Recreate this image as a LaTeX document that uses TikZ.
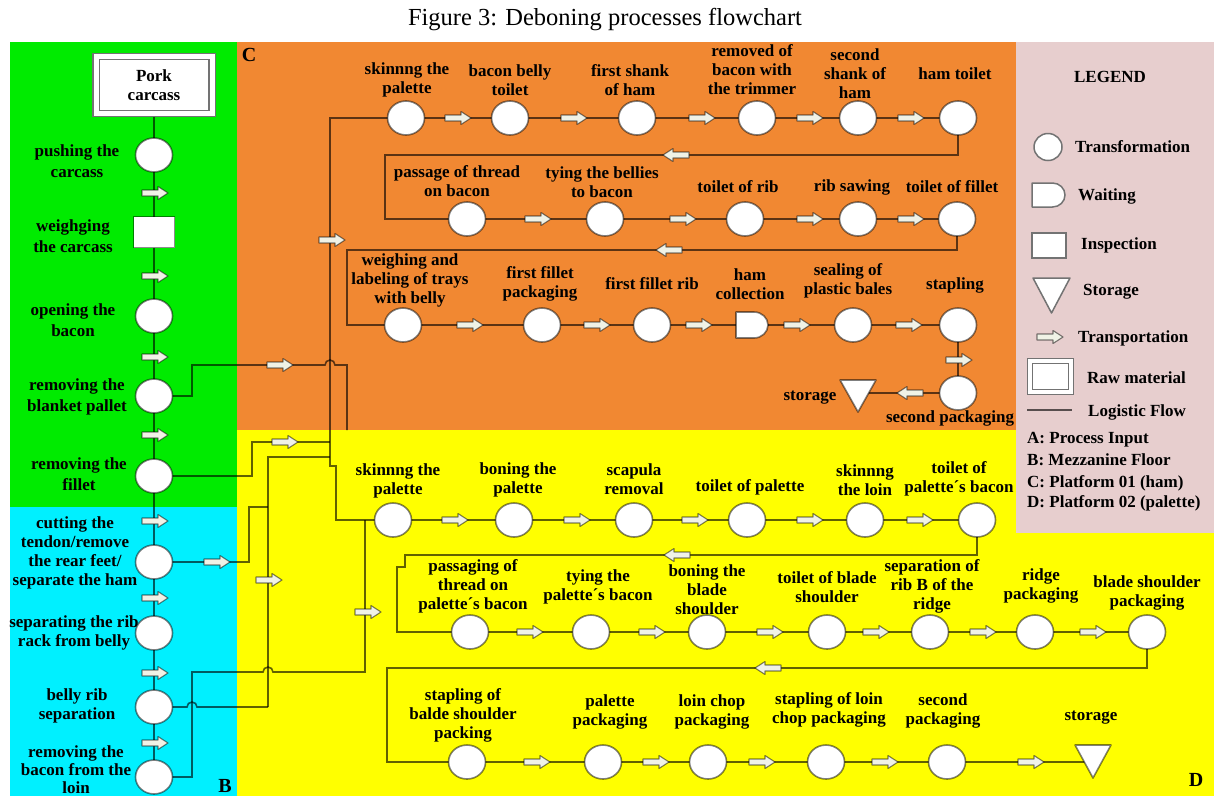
\documentclass[tikz,border=0pt]{standalone}
\usepackage{fontspec}
\setmainfont{Liberation Serif}
\usetikzlibrary{shapes.geometric}
\pgfdeclarelayer{regions}
\pgfdeclarelayer{lines}
\pgfsetlayers{regions,lines,main}
\definecolor{cgreen}{RGB}{0,235,0}
\definecolor{ccyan}{RGB}{0,240,255}
\definecolor{corange}{RGB}{241,136,50}
\definecolor{cyellow}{RGB}{255,255,0}
\definecolor{clegend}{RGB}{231,206,206}
\definecolor{arrfill}{RGB}{240,242,230}
\definecolor{cgray}{RGB}{115,115,115}
\tikzset{
  flow/.style={draw=black, draw opacity=0.62, line width=1.6pt},
  proc/.style={ellipse, draw=black, draw opacity=0.5, fill=white, line width=1.6pt, minimum width=37pt, minimum height=34pt, inner sep=0pt},
  insp/.style={rectangle, draw=black, draw opacity=0.45, fill=white, line width=1.5pt, minimum width=41pt, minimum height=31pt, inner sep=0pt},
  ghost/.style={rectangle, draw=none, minimum width=34pt, minimum height=30pt, inner sep=0pt},
  shp/.style={draw=black, draw opacity=0.5, fill=white, line width=1.6pt, line join=round},
  lshp/.style={draw=cgray, fill=white, line width=1.5pt, line join=round},
  lbl/.style={font=\bfseries\fontsize{17}{19}\selectfont, align=center, inner sep=0pt},
  lbll/.style={font=\bfseries\fontsize{17}{21}\selectfont, align=center, inner sep=0pt},
  lgd/.style={font=\bfseries\fontsize{17}{19}\selectfont, anchor=base west, inner sep=0pt},
  reg/.style={font=\bfseries\fontsize{20}{22}\selectfont, inner sep=0pt},
  tarr/.pic={\draw[fill=arrfill, draw=black, draw opacity=0.5, line width=1.1pt, line join=round] (-13,-3) -- (3,-3) -- (3,-6.5) -- (13,0) -- (3,6.5) -- (3,3) -- (-13,3) -- cycle;},
}
\begin{document}
\begin{tikzpicture}[x=1pt,y=-1pt]
\useasboundingbox (0,0) rectangle (1214,796);
\begin{pgfonlayer}{regions}
\fill[white] (0,0) rectangle (1214,796);
\fill[cgreen] (10,42) rectangle (237,507);
\fill[ccyan] (10,507) rectangle (237,796);
\fill[corange] (237,42) rectangle (1016,430);
\fill[cyellow] (237,430) rectangle (1214,796);
\fill[clegend] (1016,42) rectangle (1214,533);
\end{pgfonlayer}

\node[font=\fontsize{24.5}{26}\selectfont, inner sep=0pt] (title) at (605,20) {Figure 3: Deboning processes flowchart};

% region letters
\node[reg] (rc) at (249,55) {C};
\node[reg] (rb) at (225,786) {B};
\node[reg] (rd) at (1196,780) {D};

% ---------- left column ----------
\node[lbl, draw=cgray, double=white, double distance=5pt, fill=white, line width=1.2pt, minimum width=116pt, minimum height=57pt] (pork) at (154,85) {Pork\\carcass};
\node[proc] (p1) at (154,155) {};
\node[insp] (p2) at (154,232) {};
\node[proc] (p3) at (154,316) {};
\node[proc] (p4) at (154,396) {};
\node[proc] (p5) at (154,476) {};
\node[proc] (p6) at (154,562) {};
\node[proc] (p7) at (154,633) {};
\node[proc] (p8) at (154,707) {};
\node[proc] (p9) at (154,777) {};

\node[lbll] (lp1) at (77,161) {pushing the\\carcass};
\node[lbll] (lp2) at (73,236) {weighging\\the carcass};
\node[lbll] (lp3) at (73,320) {opening the\\bacon};
\node[lbll] (lp4) at (77,397) {removing the\\blanket pallet};
\node[lbll] (lp5) at (79,474) {removing the\\fillet};
\node[lbl] (lp6) at (75,553) {cutting the\\tendon/remove\\the rear feet/\\separate the ham};
\node[lbl] (lp7) at (74,633) {separating the rib\\rack from belly};
\node[lbl] (lp8) at (77,706) {belly rib\\separation};
\node[font=\bfseries\fontsize{17}{18}\selectfont, align=center, inner sep=0pt] (lp9) at (76,770) {removing the\\bacon from the\\loin};

% ---------- orange (C) ----------
\node[proc] (o1) at (406,118) {};
\node[proc] (o2) at (510,118) {};
\node[proc] (o3) at (637,118) {};
\node[proc] (o4) at (757,118) {};
\node[proc] (o5) at (858,118) {};
\node[proc] (o6) at (958,118) {};
\node[proc] (o7) at (467,219) {};
\node[proc] (o8) at (605,219) {};
\node[proc] (o9) at (745,219) {};
\node[proc] (o10) at (858,219) {};
\node[proc] (o11) at (957,219) {};
\node[proc] (o12) at (403,325) {};
\node[proc] (o13) at (542,325) {};
\node[proc] (o14) at (652,325) {};
\node[ghost] (o15) at (752,325) {};
\node[proc] (o16) at (853,325) {};
\node[proc] (o17) at (958,325) {};
\node[proc] (o18) at (958,393) {};
\node[ghost] (o19) at (858,393) {};
\draw[shp] ([shift={(-16,-13)}]o15.center) -- ([shift={(2,-13)}]o15.center) arc[start angle=270, end angle=450, x radius=14, y radius=13] -- ([shift={(-16,13)}]o15.center) -- cycle;
\draw[shp] ([shift={(-18,-13)}]o19.center) -- ([shift={(18,-13)}]o19.center) -- ([shift={(0,19)}]o19.center) -- cycle;

\node[lbl] (lo1) at (407,80) {skinnng the\\palette};
\node[lbl] (lo2) at (510,80) {bacon belly\\toilet};
\node[lbl] (lo3) at (630,80) {first shank\\of ham};
\node[lbl] (lo4) at (752,70) {removed of\\bacon with\\the trimmer};
\node[lbl] (lo5) at (855,74) {second\\shank of\\ham};
\node[lbl] (lo6) at (955,74) {ham toilet};
\node[lbl] (lo7) at (457,181) {passage of thread\\on bacon};
\node[lbl] (lo8) at (602,182) {tying the bellies\\to bacon};
\node[lbl] (lo9) at (738,187) {toilet of rib};
\node[lbl] (lo10) at (852,187) {rib sawing};
\node[lbl] (lo11) at (952,187) {toilet of fillet};
\node[lbl] (lo12) at (410,280) {weighing and\\labeling of trays\\with belly};
\node[lbl] (lo13) at (540,284) {first fillet\\packaging};
\node[lbl] (lo14) at (652,284) {first fillet rib};
\node[lbl] (lo15) at (750,284) {ham\\collection};
\node[lbl] (lo16) at (848,281) {sealing of\\plastic bales};
\node[lbl] (lo17) at (955,285) {stapling};
\node[lbl] (lo18) at (950,418) {second packaging};
\node[lbl] (lo19) at (810,398) {storage};

% ---------- yellow (D) ----------
\node[proc] (y1) at (393,520) {};
\node[proc] (y2) at (514,520) {};
\node[proc] (y3) at (634,520) {};
\node[proc] (y4) at (747,520) {};
\node[proc] (y5) at (865,520) {};
\node[proc] (y6) at (977,520) {};
\node[proc] (y7) at (470,632) {};
\node[proc] (y8) at (591,632) {};
\node[proc] (y9) at (707,632) {};
\node[proc] (y10) at (827,632) {};
\node[proc] (y11) at (930,632) {};
\node[proc] (y12) at (1035,632) {};
\node[proc] (y13) at (1147,632) {};
\node[proc] (y14) at (467,762) {};
\node[proc] (y15) at (603,762) {};
\node[proc] (y16) at (708,762) {};
\node[proc] (y17) at (826,762) {};
\node[proc] (y18) at (947,762) {};
\node[ghost] (y19) at (1093,762) {};
\draw[shp] ([shift={(-18,-17)}]y19.center) -- ([shift={(18,-17)}]y19.center) -- ([shift={(0,16)}]y19.center) -- cycle;

\node[lbl] (ly1) at (398,481) {skinnng the\\palette};
\node[lbl] (ly2) at (518,480) {boning the\\palette};
\node[lbl] (ly3) at (634,479) {scapula\\removal};
\node[lbl] (ly4) at (750,487) {toilet of palette};
\node[lbl] (ly5) at (865,480) {skinnng\\the loin};
\node[lbl] (ly6) at (959,479) {toilet of\\palette´s bacon};
\node[lbl] (ly7) at (473,586) {passaging of\\thread on\\palette´s bacon};
\node[lbl] (ly8) at (598,587) {tying the\\palette´s bacon};
\node[lbl] (ly9) at (707,590) {boning the\\blade\\shoulder};
\node[lbl] (ly10) at (827,587) {toilet of blade\\shoulder};
\node[lbl] (ly11) at (932,586) {separation of\\rib B of the\\ridge};
\node[lbl] (ly12) at (1041,586) {ridge\\packaging};
\node[lbl] (ly13) at (1147,593) {blade shoulder\\packaging};
\node[lbl] (ly14) at (463,715) {stapling of\\balde shoulder\\packing};
\node[lbl] (ly15) at (610,712) {palette\\packaging};
\node[lbl] (ly16) at (712,712) {loin chop\\packaging};
\node[lbl] (ly17) at (829,710) {stapling of loin\\chop packaging};
\node[lbl] (ly18) at (943,711) {second\\packaging};
\node[lbl] (ly19) at (1091,718) {storage};

% ---------- connectors ----------
\coordinate (b1) at (192,396); \coordinate (b2) at (192,365); \coordinate (bh) at (325,365);
\coordinate (b3) at (347,365); \coordinate (b4) at (347,430);
\coordinate (f1) at (252,476); \coordinate (f2) at (252,442); \coordinate (f3) at (330,442);
\coordinate (v1top) at (330,118); \coordinate (v1bot) at (330,466); \coordinate (v1j) at (336,466); \coordinate (yst) at (336,520);
\coordinate (c1) at (249,562); \coordinate (c2) at (249,507); \coordinate (c3) at (268,507);
\coordinate (v2top) at (268,457); \coordinate (v2r) at (330,457); \coordinate (v2bot) at (268,707);
\coordinate (eh) at (187,707);
\coordinate (l1) at (192,777); \coordinate (l2) at (192,672); \coordinate (lh) at (263,672); \coordinate (l3) at (365,672); \coordinate (l4) at (365,520);
\coordinate (r1a) at (958,155); \coordinate (r1b) at (385,155); \coordinate (r1c) at (385,219);
\coordinate (r2a) at (957,250); \coordinate (r2b) at (347,250); \coordinate (r2c) at (347,325);
\coordinate (s1a) at (977,555); \coordinate (s1b) at (405,555); \coordinate (s1c) at (405,567); \coordinate (s1d) at (397,567); \coordinate (s1e) at (397,632);
\coordinate (s2a) at (1147,668); \coordinate (s2b) at (387,668); \coordinate (s2c) at (387,762);

\begin{pgfonlayer}{lines}
\draw[flow] (pork.center) -- (p1.center) -- (p2.center) -- (p3.center) -- (p4.center) -- (p5.center) -- (p6.center) -- (p7.center) -- (p8.center) -- (p9.center);
\draw[flow] (p4.center) -- (b1) -- (b2) -- (bh) arc[start angle=180, end angle=360, radius=5] -- (b3) -- (b4);
\draw[flow] (p5.center) -- (f1) -- (f2) -- (f3);
\draw[flow] (o1.center) -- (v1top) -- (v1bot) -- (v1j) -- (yst) -- (y1.center);
\draw[flow] (p6.center) -- (c1) -- (c2) -- (c3);
\draw[flow] (v2r) -- (v2top) -- (v2bot);
\draw[flow] (p8.center) -- (eh) arc[start angle=180, end angle=360, radius=5] -- (v2bot);
\draw[flow] (p9.center) -- (l1) -- (l2) -- (lh) arc[start angle=180, end angle=360, radius=5] -- (l3) -- (l4);
% orange
\draw[flow] (o1.center) -- (o2.center) -- (o3.center) -- (o4.center) -- (o5.center) -- (o6.center);
\draw[flow] (o6.center) -- (r1a) -- (r1b) -- (r1c) -- (o7.center);
\draw[flow] (o7.center) -- (o8.center) -- (o9.center) -- (o10.center) -- (o11.center);
\draw[flow] (o11.center) -- (r2a) -- (r2b) -- (r2c) -- (o12.center);
\draw[flow] (o12.center) -- (o13.center) -- (o14.center) -- (o15.center) -- (o16.center) -- (o17.center);
\draw[flow] (o17.center) -- (o18.center) -- (o19.center);
% yellow
\draw[flow] (y1.center) -- (y2.center) -- (y3.center) -- (y4.center) -- (y5.center) -- (y6.center);
\draw[flow] (y6.center) -- (s1a) -- (s1b) -- (s1c) -- (s1d) -- (s1e) -- (y7.center);
\draw[flow] (y7.center) -- (y8.center) -- (y9.center) -- (y10.center) -- (y11.center) -- (y12.center) -- (y13.center);
\draw[flow] (y13.center) -- (s2a) -- (s2b) -- (s2c) -- (y14.center);
\draw[flow] (y14.center) -- (y15.center) -- (y16.center) -- (y17.center) -- (y18.center) -- (y19.center);
\end{pgfonlayer}

% ---------- transportation arrows ----------
\foreach \yy in {193,276,357,435,521,598,673,743} {\pic at (155,\yy) {tarr};}
\pic at (280,365) {tarr};
\pic at (285,442) {tarr};
\pic at (217,562) {tarr};
\pic at (269,580) {tarr};
\pic at (368,612) {tarr};
\pic at (332,240) {tarr};
% orange
\foreach \xx in {458,574,702,810,911} {\pic at (\xx,118) {tarr};}
\pic[rotate=180] at (676,155) {tarr};
\foreach \xx in {538,683,810,911} {\pic at (\xx,219) {tarr};}
\pic[rotate=180] at (669,250) {tarr};
\foreach \xx in {470,597,699,797,909} {\pic at (\xx,325) {tarr};}
\pic at (959,360) {tarr};
\pic[rotate=180] at (910,393) {tarr};
% yellow
\foreach \xx in {455,577,695,810,920} {\pic at (\xx,520) {tarr};}
\pic[rotate=180] at (677,555) {tarr};
\foreach \xx in {530,652,770,876,983,1093} {\pic at (\xx,632) {tarr};}
\pic[rotate=180] at (768,668) {tarr};
\foreach \xx in {537,656,762,885,1031} {\pic at (\xx,762) {tarr};}

% ---------- legend ----------
\node[lbl] (lgtitle) at (1110,77) {LEGEND};
\node[ellipse, draw=cgray, fill=white, line width=1.5pt, minimum width=28pt, minimum height=27pt, inner sep=0pt] (lgc) at (1048,147) {};
\node[lgd] (lg1) at (1075,152.5) {Transformation};
\node[ghost, minimum width=33pt, minimum height=24pt] (lgw) at (1048.5,195) {};
\draw[lshp] ([shift={(-16.5,-12)}]lgw.center) -- ([shift={(4,-12)}]lgw.center) arc[start angle=270, end angle=450, x radius=12.5, y radius=12] -- ([shift={(-16.5,12)}]lgw.center) -- cycle;
\node[lgd] (lg2) at (1078,200.5) {Waiting};
\node[rectangle, draw=cgray, fill=white, line width=1.5pt, minimum width=34pt, minimum height=25pt, inner sep=0pt] (lgi) at (1049,245.5) {};
\node[lgd] (lg3) at (1081,249.5) {Inspection};
\node[ghost] (lgs) at (1051.5,295) {};
\draw[lshp] ([shift={(-18.5,-17)}]lgs.center) -- ([shift={(18.5,-17)}]lgs.center) -- ([shift={(0,18)}]lgs.center) -- cycle;
\node[lgd] (lg4) at (1083,295.5) {Storage};
\pic at (1050,337) {tarr};
\node[lgd] (lg5) at (1078,342.5) {Transportation};
\node[rectangle, draw=cgray, double=white, double distance=4pt, fill=white, line width=1.2pt, minimum width=41pt, minimum height=31pt, inner sep=0pt] (lgr) at (1050.5,376.5) {};
\node[lgd] (lg6) at (1087,383.5) {Raw material};
\coordinate (lgfa) at (1027,410); \coordinate (lgfb) at (1072,410);
\draw[flow] (lgfa) -- (lgfb);
\node[lgd] (lg7) at (1088,416.5) {Logistic Flow};
\node[lgd] (lg8) at (1027,443.5) {A: Process Input};
\node[lgd] (lg9) at (1027,465.5) {B: Mezzanine Floor};
\node[lgd] (lg10) at (1027,487.5) {C: Platform 01 (ham)};
\node[lgd] (lg11) at (1027,507.5) {D: Platform 02 (palette)};
\end{tikzpicture}
\end{document}
